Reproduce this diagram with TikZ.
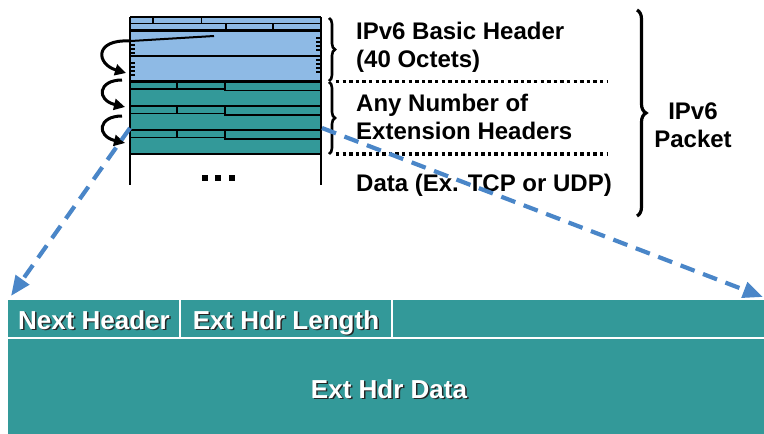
\documentclass[tikz,border=0pt]{standalone}
\usepackage{fontspec}
\setmainfont{Liberation Sans}
\usetikzlibrary{arrows.meta,decorations.pathreplacing}
\definecolor{hdrblue}{HTML}{8EBAE5}
\definecolor{extteal}{HTML}{339999}
\definecolor{linkblue}{HTML}{4A86C8}
\tikzset{
  fieldline/.style={line width=1.8pt},
  rowline/.style={line width=2.8pt},
  sidetext/.style={font=\fontsize{24}{28}\selectfont\bfseries, anchor=base west, inner sep=0pt},
  pkttext/.style={font=\fontsize{24}{28}\selectfont\bfseries, anchor=base, inner sep=0pt},
  fieldtext/.style={font=\fontsize{26}{30}\selectfont\bfseries, anchor=base, inner sep=0pt, text=white},
  fieldshadow/.style={font=\fontsize{26}{30}\selectfont\bfseries, anchor=base, inner sep=0pt, text=black!85},
  chainarrow/.style={line width=3pt, -{Triangle[length=11pt,width=11pt]}},
  linkdash/.style={linkblue, line width=4.2pt, dash pattern=on 15pt off 9pt,
                   -{Triangle[length=20pt,width=16pt]}},
  smallbrace/.style={decorate, decoration={brace, amplitude=6pt}, line width=2.6pt},
  bigbrace/.style={decorate, decoration={brace, amplitude=9pt}, line width=3.2pt},
  sepline/.style={line width=3.4pt, dash pattern=on 3.4pt off 3.2pt}
}
\begin{document}
\begin{tikzpicture}[x=1pt,y=-1pt]
\useasboundingbox (0,0) rectangle (764,434);

% ---- packet stack ----
\coordinate (stackTL) at (130,17);
\coordinate (stackTR) at (321,17);
\coordinate (stackBL) at (130,185);
\coordinate (stackBR) at (321,185);

\fill[hdrblue] (130,17) rectangle (321,81.5);
\fill[extteal] (130,81.5) rectangle (321,154);

% basic header fields
\draw[fieldline] (130,23.5) -- (321,23.5);
\draw[fieldline] (153,17) -- (153,23.5) (201.5,17) -- (201.5,23.5);
\draw[fieldline] (226,23.5) -- (226,30.5) (273,23.5) -- (273,30.5);
\draw[rowline] (130,30.5) -- (321,30.5);
\draw[rowline] (130,56) -- (321,56);
\foreach \y in {41,45,49,53,63,67,71,75} {
  \draw[line width=1.5pt] (130,\y) -- (135,\y);
  \draw[line width=1.5pt] (316,\y-3) -- (321,\y-3);
}
\draw[line width=2pt] (131,41) -- (214,36);

% extension headers
\foreach \s in {81.5,106,130} {
  \draw[rowline] (130,\s) -- (321,\s);
  \draw[fieldline] (130,\s+7.5) -- (225,\s+7.5) -- (225,\s+9) -- (321,\s+9);
  \draw[fieldline] (177,\s) -- (177,\s+7.5) (225,\s) -- (225,\s+7.5);
}
\draw[rowline] (130,154) -- (321,154);
\draw[rowline] (stackTL) -- (stackTR);
\draw[rowline] (stackTL) -- (stackBL);
\draw[rowline] (stackTR) -- (stackBR);

% data continuation
\foreach \x in {202,215,229} \fill (\x,175) rectangle (\x+6,181);

% next-header chain
\coordinate (c1s) at (130,41);  \coordinate (c1e) at (126,73);
\coordinate (c2s) at (122,80);  \coordinate (c2e) at (125,107);
\coordinate (c3s) at (122,116); \coordinate (c3e) at (125,143);
\draw[chainarrow] (c1s) .. controls (94,39) and (96,64) .. (c1e);
\draw[chainarrow] (c2s) .. controls (98,80) and (96,100) .. (c2e);
\draw[chainarrow] (c3s) .. controls (98,116) and (96,136) .. (c3e);

% ---- braces and labels ----
\draw[smallbrace] (329,18) -- (329,81);
\draw[smallbrace] (329,82) -- (329,154);
\draw[sepline] (336,81.5) -- (607,81.5);
\draw[sepline] (336,154) -- (607,154);
\draw[bigbrace] (637,10) -- (637,216);

\node[sidetext] (basic1) at (356,39.5) {IPv6 Basic Header};
\node[sidetext] (basic2) at (356,67) {(40 Octets)};
\node[sidetext] (ext1) at (356,111) {Any Number of};
\node[sidetext] (ext2) at (356,139) {Extension Headers};
\node[sidetext] (data) at (356,191) {Data (Ex. TCP or UDP)};
\node[pkttext] (pkt1) at (693,119) {IPv6};
\node[pkttext] (pkt2) at (693,147) {Packet};

% ---- extension header format ----
\fill[extteal] (8,300) rectangle (764,434);
\draw[white, line width=2.4pt] (8,338) -- (764,338);
\draw[white, line width=2.4pt] (180,300) -- (180,337) (392,300) -- (392,337);

\node[fieldshadow] (nhS) at (95.5,330.5) {Next Header};
\node[fieldtext] (nh) at (94,329) {Next Header};
\node[fieldshadow] (ehlS) at (287.5,330.5) {Ext Hdr Length};
\node[fieldtext] (ehl) at (286,329) {Ext Hdr Length};
\node[fieldshadow] (ehdS) at (390.5,399.5) {Ext Hdr Data};
\node[fieldtext] (ehd) at (389,398) {Ext Hdr Data};

\coordinate (zoomL) at (11,296);
\coordinate (zoomR) at (763,297);
\coordinate (fromL) at (130,128);
\coordinate (fromR) at (322,128);
\draw[linkdash] (fromL) -- (zoomL);
\draw[linkdash] (fromR) -- (zoomR);
\end{tikzpicture}
\end{document}
